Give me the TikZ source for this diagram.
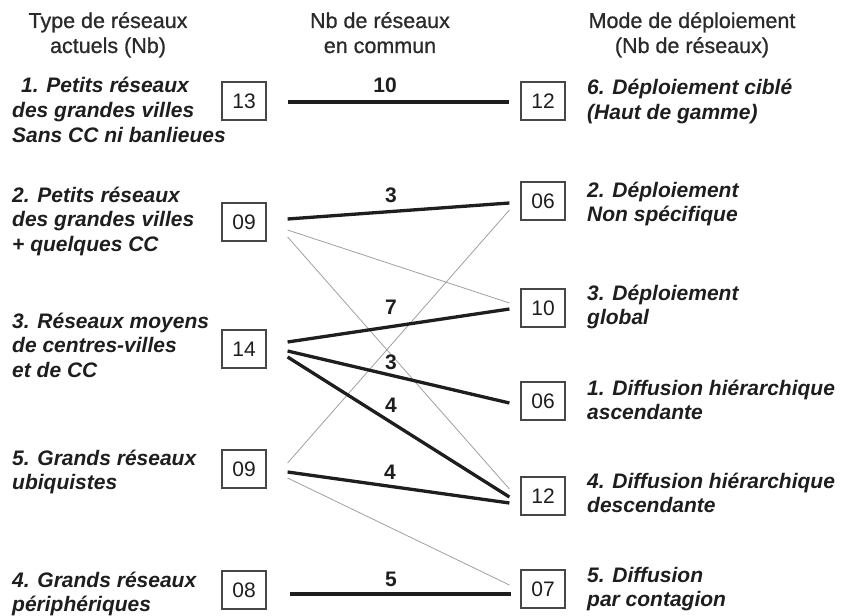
\documentclass[tikz,border=0pt]{standalone}
\usepackage{fontspec}
\setmainfont{Liberation Sans}
\newfontfamily\hdrfont[FakeBold=0.8]{Liberation Sans}
\newcommand\mlines[1]{\begin{tabular}[t]{@{}l@{}}#1\end{tabular}}
\newcommand\clines[1]{\begin{tabular}[t]{@{}c@{}}#1\end{tabular}}
\definecolor{ink}{HTML}{1E1E1E}
\definecolor{hdrink}{HTML}{2A2A2A}
\definecolor{boxedge}{HTML}{474747}
\definecolor{weakline}{HTML}{A0A0A0}
\tikzset{
  hdr/.style={font=\hdrfont\fontsize{21.5}{25}\selectfont, text=hdrink, anchor=base, inner sep=0pt},
  lbl/.style={font=\fontsize{21}{24.5}\selectfont\bfseries\itshape, text=ink, anchor=base west, inner sep=0pt},
  cnt/.style={draw=boxedge, line width=1.2pt, minimum width=44pt, minimum height=38pt, inner sep=0pt, font=\fontsize{21}{21}\selectfont, text=ink},
  num/.style={font=\fontsize{21}{21}\selectfont\bfseries, text=ink, inner sep=0pt},
  strong/.style={line width=3.3pt, draw=ink},
  weak/.style={line width=0.8pt, draw=weakline},
}
\begin{document}
\begin{tikzpicture}[x=1pt,y=-1pt]
\useasboundingbox (0,0) rectangle (842,615);
\fill[white] (0,0) rectangle (842,615);

% headers
\node[hdr] (h1) at (108,28) {\clines{Type de réseaux\\actuels (Nb)}};
\node[hdr] (h2) at (380,28) {\clines{Nb de réseaux\\en commun}};
\node[hdr] (h3) at (692,28) {\clines{Mode de déploiement\\(Nb de réseaux)}};

% left labels
\node[lbl] (t1) at (12,93) {\mlines{\hspace{9pt}1. Petits réseaux\\des grandes villes\\Sans CC ni banlieues}};
\node[lbl] (t2) at (12,202) {\mlines{2. Petits réseaux\\des grandes villes\\+ quelques CC}};
\node[lbl] (t3) at (12,328) {\mlines{3. Réseaux moyens\\de centres-villes\\et de CC}};
\node[lbl] (t5) at (12,465) {\mlines{5. Grands réseaux\\ubiquistes}};
\node[lbl] (t4) at (12,587) {\mlines{4. Grands réseaux\\périphériques}};

% left boxes
\node[cnt] (L1) at (244,101) {13};
\node[cnt] (L2) at (244,222) {09};
\node[cnt] (L3) at (244,349) {14};
\node[cnt] (L5) at (244,469) {09};
\node[cnt] (L4) at (244,590) {08};

% right boxes
\node[cnt] (R6) at (543,101) {12};
\node[cnt] (R2) at (543,201) {06};
\node[cnt] (R3) at (543,308) {10};
\node[cnt] (R1) at (543,401) {06};
\node[cnt] (R4) at (543,496) {12};
\node[cnt] (R5) at (543,589) {07};

% right labels
\node[lbl] (u6) at (587,95) {\mlines{6. Déploiement ciblé\\(Haut de gamme)}};
\node[lbl] (u2) at (587,197) {\mlines{2. Déploiement\\Non spécifique}};
\node[lbl] (u3) at (587,300) {\mlines{3. Déploiement\\global}};
\node[lbl] (u1) at (587,395) {\mlines{1. Diffusion hiérarchique\\ascendante}};
\node[lbl] (u4) at (587,488) {\mlines{4. Diffusion hiérarchique\\descendante}};
\node[lbl] (u5) at (587,582) {\mlines{5. Diffusion\\par contagion}};

% weak connectors
\draw[weak] ([shift={(21,8)}]L2.east) -- ([shift={(-11,-5)}]R3.west);
\draw[weak] ([shift={(21,15)}]L2.east) -- ([shift={(-11,-7)}]R4.west);
\draw[weak] ([shift={(21,-6)}]L5.east) -- ([shift={(-11,9)}]R2.west);
\draw[weak] ([shift={(21,9)}]L5.east) -- ([shift={(-11,-4)}]R5.west);

% strong connectors
\draw[strong] ([shift={(21,1)}]L1.east) -- ([shift={(-11,1)}]R6.west);
\draw[strong] ([shift={(21,-3)}]L2.east) -- ([shift={(-11,2)}]R2.west);
\draw[strong] ([shift={(21,-7)}]L3.east) -- ([shift={(-11,1)}]R3.west);
\draw[strong] ([shift={(21,2)}]L3.east) -- ([shift={(-11,2)}]R1.west);
\draw[strong] ([shift={(21,8)}]L3.east) -- ([shift={(-11,1)}]R4.west);
\draw[strong] ([shift={(21,3)}]L5.east) -- ([shift={(-11,7)}]R4.west);
\draw[strong] ([shift={(23,4)}]L4.east) -- ([shift={(-9,5)}]R5.west);

% counts in common
\node[num] (n10) at (385,85.5) {10};
\node[num] (n3a) at (391,195) {3};
\node[num] (n7) at (391,307) {7};
\node[num] (n3b) at (391,362) {3};
\node[num] (n4a) at (391,405) {4};
\node[num] (n4b) at (390,472) {4};
\node[num] (n5) at (391,579) {5};
\end{tikzpicture}
\end{document}
